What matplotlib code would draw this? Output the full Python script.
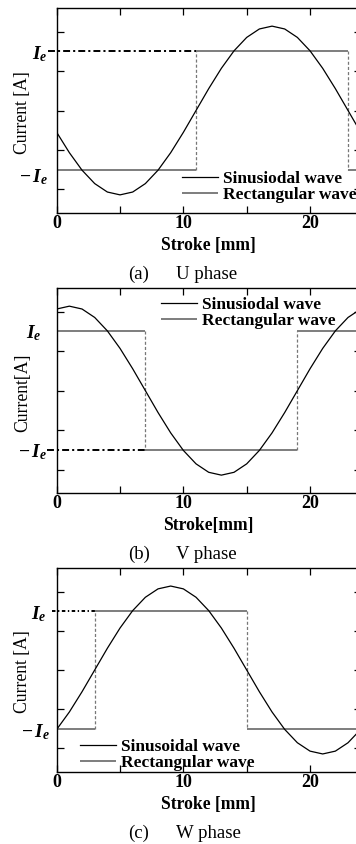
import matplotlib
matplotlib.use("Agg")
import matplotlib.pyplot as plt
import numpy as np

plt.rcParams["font.family"] = ["Liberation Serif", "DejaVu Serif"]
plt.rcParams["mathtext.fontset"] = "custom"
plt.rcParams["mathtext.it"] = "Liberation Serif:italic:bold"
plt.rcParams["mathtext.rm"] = "Liberation Serif:bold"
plt.rcParams["mathtext.bf"] = "Liberation Serif:bold"
plt.rcParams["lines.scale_dashes"] = False

# stroke positions [mm] and phase currents (normalised)
stroke_mm = list(range(25))
u_phase = [-0.277, -0.535, -0.757, -0.927, -1.034, -1.07, -1.034, -0.927, -0.757,
           -0.535, -0.277, 0.0, 0.277, 0.535, 0.757, 0.927, 1.034, 1.07, 1.034,
           0.927, 0.757, 0.535, 0.277, 0.0, -0.277]
v_phase = [1.034, 1.07, 1.034, 0.927, 0.757, 0.535, 0.277, 0.0, -0.277, -0.535,
           -0.757, -0.927, -1.034, -1.07, -1.034, -0.927, -0.757, -0.535, -0.277,
           0.0, 0.277, 0.535, 0.757, 0.927, 1.034]
w_phase = [-0.757, -0.535, -0.277, 0.0, 0.277, 0.535, 0.757, 0.927, 1.034, 1.07,
           1.034, 0.927, 0.757, 0.535, 0.277, 0.0, -0.277, -0.535, -0.757, -0.927,
           -1.034, -1.07, -1.034, -0.927, -0.757]

# rectangular drive current: level Ie, switching edges and signs
i_e = 0.757
u_edges = [0, 11, 23, 24]
u_signs = [-1, 1, -1]
v_edges = [0, 7, 19, 24]
v_signs = [1, -1, 1]
w_edges = [0, 3, 15, 24]
w_signs = [-1, 1, -1]

sine_labels = ["Sinusiodal wave", "Sinusiodal wave", "Sinusoidal wave"]
rect_label = "Rectangular wave"
y_labels = ["Current [A]", "Current[A]", "Current [A]"]
x_labels = ["Stroke [mm]", "Stroke[mm]", "Stroke [mm]"]
captions = [("(a)", "U phase"), ("(b)", "V phase"), ("(c)", "W phase")]

W, H = 356, 844
fig = plt.figure(figsize=(W / 100, H / 100), dpi=100)


def fx(px):
    return px / W


def fy(py):
    return 1 - py / H


# panel geometry in pixels: axes top, axes bottom
panels = [
    dict(top=8, bottom=213, sine=u_phase, edges=u_edges, signs=u_signs,
         guide=(-0.69, 11, 1), guide_dash=(0, (5, 2.2, 1.5, 2.2)),
         leg=(182, 171), ie_lab=(48, 59), mie_lab=(48, 182)),
    dict(top=288, bottom=493.3, sine=v_phase, edges=v_edges, signs=v_signs,
         guide=(-0.8, 7, -1), guide_dash=(0, (5, 2.2, 1.5, 2.2)),
         leg=(161, 297), ie_lab=(42, 338), mie_lab=(47, 457)),
    dict(top=568, bottom=772, sine=w_phase, edges=w_edges, signs=w_signs,
         guide=(-0.4, 3, 1), guide_dash=(0, (2.5, 1.8, 1, 1.8)),
         leg=(80, 739), ie_lab=(47, 619), mie_lab=(50, 737)),
]

left_px = 56.7
width_px = 304

for i, p in enumerate(panels):
    ax = fig.add_axes([fx(left_px), fy(p["bottom"]), width_px / W,
                       (p["bottom"] - p["top"]) / H])
    ax.set_xlim(0, 24)
    ax.set_ylim(-1.3, 1.3)

    sine_line, = ax.plot(stroke_mm, p["sine"], color="black", lw=0.9,
                         label=sine_labels[i], zorder=3)

    edges = np.array(p["edges"], dtype=float)
    levels = np.array(p["signs"], dtype=float) * i_e
    rect = ax.hlines(levels, edges[:-1], edges[1:], colors="#5a5a5a", lw=1.1,
                     label=rect_label, zorder=2)
    ax.vlines(edges[1:-1], levels[:-1], levels[1:], colors="#777777", lw=0.9,
              linestyles=[(0, (2.2, 1.5))], zorder=2)

    gx0, gx1, gs = p["guide"]
    ax.plot([gx0, gx1], [gs * i_e, gs * i_e], color="black", lw=1.4,
            linestyle=p["guide_dash"], clip_on=False, zorder=2)

    ax.set_xticks([0, 10, 20])
    ax.set_xticks([5, 15], minor=True)
    ax.set_yticks([-1, -0.5, 0, 0.5, 1])
    ax.set_yticklabels([])
    ax.tick_params(which="both", direction="in", top=True, right=True,
                   length=5, width=0.9, pad=1.5)
    for lab in ax.get_xticklabels():
        lab.set_fontsize(13)
        lab.set_fontweight("bold")
    for s in ax.spines.values():
        s.set_linewidth(1.0)

    ax.set_xlabel(x_labels[i], fontsize=12.7, fontweight="bold", va="center")
    ax.xaxis.set_label_coords((208 - left_px) / width_px,
                              -32 / (p["bottom"] - p["top"]))
    ax.set_ylabel(y_labels[i], fontsize=12.7, va="center")
    ax.yaxis.set_label_coords((22.7 - left_px) / width_px, 0.49)

    lx, ly = p["leg"]
    ax.legend(handles=[sine_line, rect], loc="upper left",
              bbox_to_anchor=(fx(lx), fy(ly)), bbox_transform=fig.transFigure,
              frameon=False, prop=dict(weight="bold", size=12.5),
              handlelength=2.05, handletextpad=0.3, labelspacing=-0.02,
              borderpad=0, borderaxespad=0)

    x_r, y_b = p["ie_lab"]
    fig.text(fx(x_r), fy(y_b), r"$I_e$", fontsize=14, ha="right", va="baseline")
    x_r, y_b = p["mie_lab"]
    fig.text(fx(x_r), fy(y_b), r"$-\,I_e$", fontsize=14, ha="right", va="baseline")

    cap_y = p["bottom"] + 61
    fig.text(fx(128), fy(cap_y), captions[i][0], fontsize=13.5, ha="left", va="center")
    fig.text(fx(176), fy(cap_y), captions[i][1], fontsize=13.5, ha="left", va="center")

fig.savefig("out.png", dpi=100)
